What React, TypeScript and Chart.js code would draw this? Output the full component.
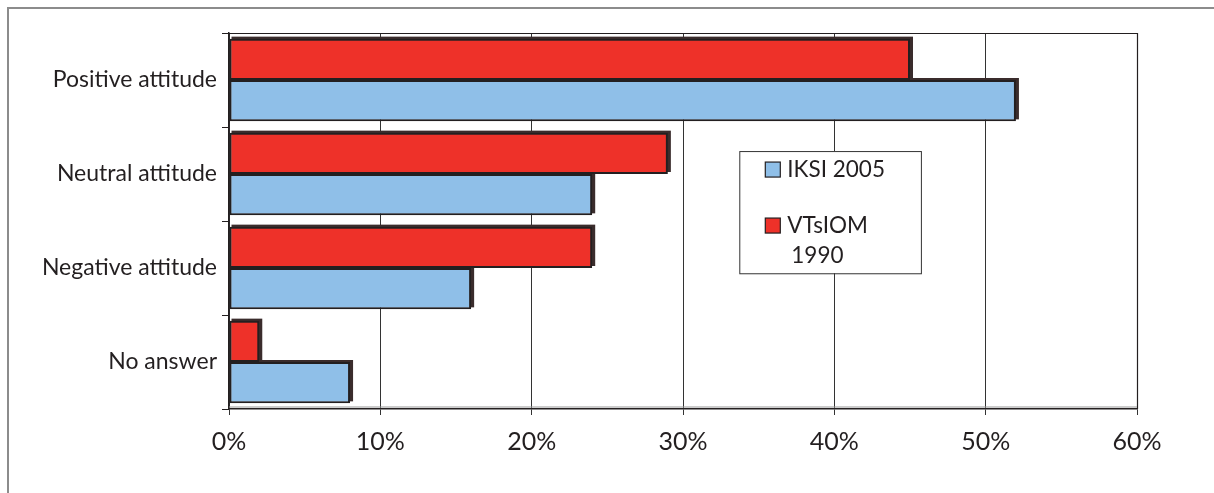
import React, { useEffect, useRef } from "react";
import { Chart, registerables } from "chart.js";

Chart.register(...registerables);

const categories = ["Positive attitude", "Neutral attitude", "Negative attitude", "No answer"];
const vtsiom1990 = [45, 29, 24, 2];
const iksi2005 = [52, 24, 16, 8];
const xTicks = [0, 10, 20, 30, 40, 50, 60];

const RED = "#EE3129";
const BLUE = "#8FBFE8";
const INK = "#231F20";
const FONT = "Lato, 'Open Sans', sans-serif";

// Gray frame along the top and left edges of the figure
const framePlugin = {
  id: "frame",
  beforeDraw(chart: any) {
    const { ctx, width, height } = chart;
    ctx.save();
    ctx.fillStyle = "#ffffff";
    ctx.fillRect(0, 0, width, height);
    ctx.strokeStyle = "#8c8c8c";
    ctx.lineWidth = 2;
    ctx.beginPath();
    ctx.moveTo(width, 8);
    ctx.lineTo(8, 8);
    ctx.lineTo(8, height);
    ctx.stroke();
    ctx.restore();
  },
};

// Dark offset shadow behind every bar
const shadowPlugin = {
  id: "barShadow",
  beforeDatasetsDraw(chart: any) {
    const ctx = chart.ctx;
    ctx.save();
    ctx.fillStyle = "#3a2c2c";
    chart.data.datasets.forEach((_: any, i: number) => {
      const meta = chart.getDatasetMeta(i);
      meta.data.forEach((bar: any) => {
        const left = Math.min(bar.base, bar.x);
        const right = Math.max(bar.base, bar.x);
        const top = bar.y - bar.height / 2;
        ctx.fillRect(left + 2, top - 2, right - left + 1, bar.height);
      });
    });
    ctx.restore();
  },
};

// Plot border and the boxed legend inside the plot
const boxPlugin = {
  id: "plotBox",
  afterDraw(chart: any) {
    const { ctx, chartArea } = chart;
    const { left, right, top, bottom } = chartArea;
    ctx.save();
    ctx.strokeStyle = INK;
    ctx.lineWidth = 1.2;
    ctx.beginPath();
    ctx.moveTo(left, top + 0.5);
    ctx.lineTo(right + 0.5, top + 0.5);
    ctx.lineTo(right + 0.5, bottom);
    ctx.stroke();
    ctx.strokeStyle = "#9a9a9a";
    ctx.beginPath();
    ctx.moveTo(left, bottom - 2);
    ctx.lineTo(right, bottom - 2);
    ctx.stroke();

    // legend
    const w = right - left;
    const h = bottom - top;
    const bx = left + w * 0.562;
    const by = top + h * 0.314;
    const bw = w * 0.2;
    const bh = h * 0.325;
    ctx.fillStyle = "#ffffff";
    ctx.fillRect(bx, by, bw, bh);
    ctx.strokeStyle = "#333333";
    ctx.lineWidth = 1;
    ctx.strokeRect(bx + 0.5, by + 0.5, bw, bh);

    const entries = [
      { color: BLUE, lines: ["IKSI 2005"] },
      { color: RED, lines: ["VTsIOM", "1990"] },
    ];
    ctx.font = `22.5px ${FONT}`;
    ctx.textBaseline = "alphabetic";
    ctx.textAlign = "left";
    let y = by + 26;
    entries.forEach((e) => {
      const sx = bx + 26;
      ctx.fillStyle = e.color;
      ctx.fillRect(sx, y - 15, 15, 15);
      ctx.strokeStyle = INK;
      ctx.lineWidth = 1.2;
      ctx.strokeRect(sx, y - 15, 15, 15);
      ctx.fillStyle = INK;
      e.lines.forEach((line, i) => {
        ctx.fillText(line, i === 0 ? sx + 22 : sx + 26, y + i * 30);
      });
      y += 56;
    });
    ctx.restore();
  },
};

export default function App() {
  const canvasRef = useRef<HTMLCanvasElement | null>(null);

  useEffect(() => {
    document.body.style.margin = "0";
    const canvas = canvasRef.current;
    if (!canvas) return;
    const chart = new Chart(canvas, {
      type: "bar",
      data: {
        labels: categories,
        datasets: [
          {
            label: "VTsIOM 1990",
            data: vtsiom1990,
            backgroundColor: RED,
            borderColor: INK,
            borderWidth: 2,
            borderSkipped: false,
            categoryPercentage: 0.88,
            barPercentage: 1,
          },
          {
            label: "IKSI 2005",
            data: iksi2005,
            backgroundColor: BLUE,
            borderColor: INK,
            borderWidth: 2,
            borderSkipped: false,
            categoryPercentage: 0.88,
            barPercentage: 1,
          },
        ],
      },
      options: {
        indexAxis: "y",
        animation: false,
        responsive: false,
        maintainAspectRatio: false,
        layout: { padding: { left: 0, right: 77, top: 33, bottom: 0 } },
        plugins: {
          legend: { display: false },
          tooltip: { enabled: false },
        },
        scales: {
          x: {
            min: 0,
            max: 60,
            afterBuildTicks: (scale: any) => {
              scale.ticks = xTicks.map((v) => ({ value: v }));
            },
            afterFit: (scale: any) => {
              scale.height = 84;
            },
            ticks: {
              callback: (v: any) => `${v}%`,
              color: INK,
              font: { family: FONT, size: 25 },
              padding: 12,
              maxRotation: 0,
            },
            grid: {
              color: "#333333",
              lineWidth: 1,
              drawTicks: true,
              tickLength: 6,
            },
            border: { display: true, color: INK, width: 1.5 },
          },
          y: {
            afterFit: (scale: any) => {
              scale.width = 229;
            },
            ticks: {
              color: INK,
              font: { family: FONT, size: 23 },
              padding: 5,
            },
            grid: {
              offset: true,
              drawOnChartArea: false,
              drawTicks: true,
              tickLength: 7,
              color: INK,
            },
            border: { display: true, color: INK, width: 1.5 },
          },
        },
      },
      plugins: [framePlugin, shadowPlugin, boxPlugin],
    });
    return () => chart.destroy();
  }, []);

  return (
    <div style={{ width: 1214, height: 493 }}>
      <canvas ref={canvasRef} width={1214} height={493} style={{ display: "block" }} />
    </div>
  );
}
